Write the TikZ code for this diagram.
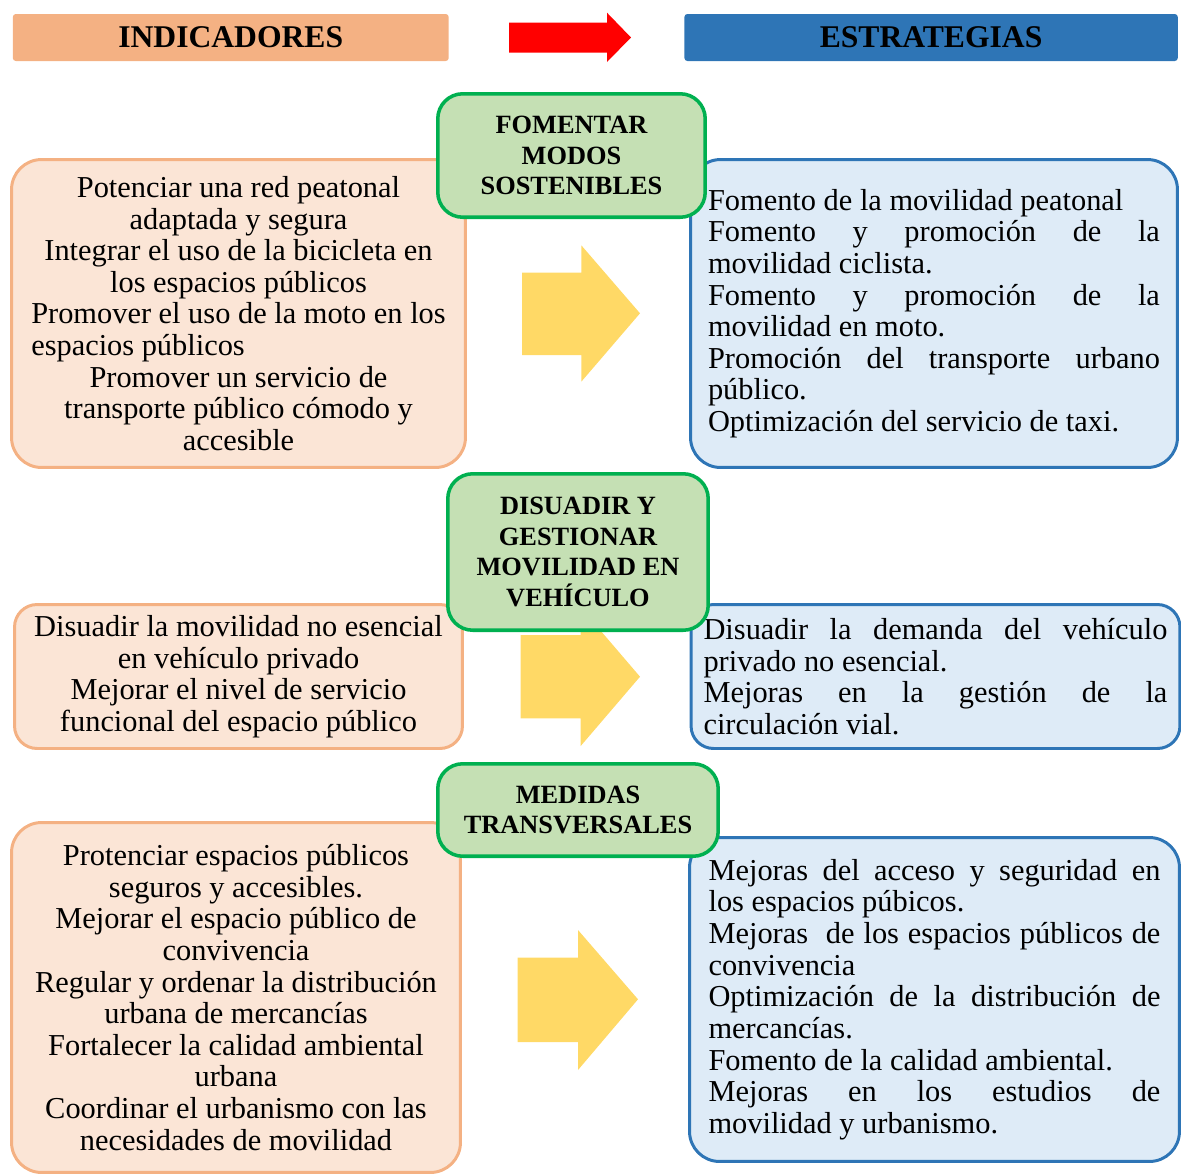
\documentclass[tikz,border=0pt]{standalone}
\usepackage{fontspec}
\setmainfont{Liberation Serif}
\usepackage{calc}
\usepackage{xcolor}
\usepackage{tikz}
\definecolor{salmon}{HTML}{F4B183}
\definecolor{peach}{HTML}{FBE5D6}
\definecolor{azul}{HTML}{2E75B6}
\definecolor{celeste}{HTML}{DEEBF7}
\definecolor{verde}{HTML}{00B050}
\definecolor{pasto}{HTML}{C5E0B4}
\definecolor{oro}{HTML}{FFD966}
\tikzset{
  txt/.style={font=\fontsize{17.3}{18}\selectfont},
  box/.style={txt,line width=1.7pt,inner sep=0pt},
  indic/.style={box,draw=salmon,fill=peach,rounded corners=6mm,align=flush center,text width=8.9cm},
  estrat/.style={box,draw=azul,fill=celeste,rounded corners=6mm,align=justify},
  eje/.style={draw=verde,fill=pasto,line width=2pt,rounded corners=5mm,align=flush center,inner sep=0pt,font=\fontsize{15}{17.5}\selectfont\bfseries},
  head/.style={rounded corners=0.6mm,minimum height=0.94cm,inner sep=0pt,font=\fontsize{18}{20}\selectfont\bfseries},
  bloque/.style={fill=oro}
}

\begin{document}
\tolerance=10000
\hyphenpenalty=10000
\begin{tikzpicture}[x=0.02cm,y=-0.02cm]
\useasboundingbox (0,0) rectangle (1181,1174);
\node[head,fill=salmon,minimum width=8.72cm] (indicadores) at (230.75,37.5) {INDICADORES};
\node[head,fill=azul,minimum width=9.87cm] (estrategias) at (931.1,37.5) {ESTRATEGIAS};
\fill[red] (509,22.7) -- (607,22.7) -- (607,12.7) -- (631,37.5) -- (607,62) -- (607,52.7) -- (509,52.7) -- cycle;

\node[indic,minimum width=9.08cm,minimum height=6.16cm] (ind1) at (238.5,313.5) {Potenciar una red peatonal\\ adaptada y segura\\ Integrar el uso de la bicicleta en\\ los espacios públicos\\ Promover el uso de la moto en los\\ \makebox[\widthof{Promover el uso de la moto en los}][l]{espacios públicos}\\ Promover un servicio de\\ transporte público cómodo y\\ accesible};
\node[estrat,minimum width=9.74cm,minimum height=6.16cm,text width=9.04cm] (est1) at (934,313.5) {Fomento de la movilidad peatonal\\ Fomento y promoción de la\linebreak movilidad ciclista.\\ Fomento y promoción de la\linebreak movilidad en moto.\\ Promoción del transporte urbano\linebreak público.\\ Optimización del servicio de taxi.};

\node[indic,minimum width=8.96cm,minimum height=2.88cm,rounded corners=4.5mm] (ind2) at (238.5,676.5) {Disuadir la movilidad no esencial\\ en vehículo privado\\ Mejorar el nivel de servicio\\ funcional del espacio público};
\node[estrat,minimum width=9.78cm,minimum height=2.88cm,text width=9.28cm,rounded corners=4.5mm] (est2) at (935.5,676.5) {Disuadir la demanda del vehículo\linebreak privado no esencial.\\ Mejoras en la gestión de la\linebreak circulación vial.};

\node[indic,minimum width=8.98cm,minimum height=7.0cm] (ind3) at (236,997.5) {Protenciar espacios públicos\\ seguros y accesibles.\\ Mejorar el espacio público de\\ convivencia\\ Regular y ordenar la distribución\\ urbana de mercancías\\ Fortalecer la calidad ambiental\\ urbana\\ Coordinar el urbanismo con las\\ necesidades de movilidad};
\node[estrat,minimum width=9.8cm,minimum height=6.48cm,text width=9.04cm] (est3) at (934.5,999.5) {Mejoras del acceso y seguridad en\linebreak los espacios púbicos.\\ Mejoras\ \ de los espacios públicos de\linebreak convivencia\\ Optimización de la distribución de\linebreak mercancías.\\ Fomento de la calidad ambiental.\\ Mejoras en los estudios de\linebreak movilidad y urbanismo.};

\fill[bloque] (522,272.7) -- (581.3,272.7) -- (581.3,245.3) -- (640,313.3) -- (581.3,381.7) -- (581.3,355) -- (522,355) -- cycle;
\fill[bloque] (520.7,635) -- (580.7,635) -- (580.7,607.4) -- (640,676.7) -- (580.7,746) -- (580.7,718.3) -- (520.7,718.3) -- cycle;
\fill[bloque] (517.7,957.7) -- (578,957.7) -- (578,930) -- (638,999.3) -- (578,1070) -- (578,1042) -- (517.7,1042) -- cycle;

\node[eje,minimum width=5.35cm,minimum height=2.47cm] (fomentar) at (571.5,155.5) {FOMENTAR\\ MODOS\\ SOSTENIBLES};
\node[eje,minimum width=5.21cm,minimum height=3.13cm] (disuadir) at (578,552) {DISUADIR Y\\ GESTIONAR\\ MOVILIDAD EN\\ VEHÍCULO};
\node[eje,minimum width=5.61cm,minimum height=1.85cm] (medidas) at (578,810) {MEDIDAS\\ TRANSVERSALES};
\end{tikzpicture}
\end{document}
